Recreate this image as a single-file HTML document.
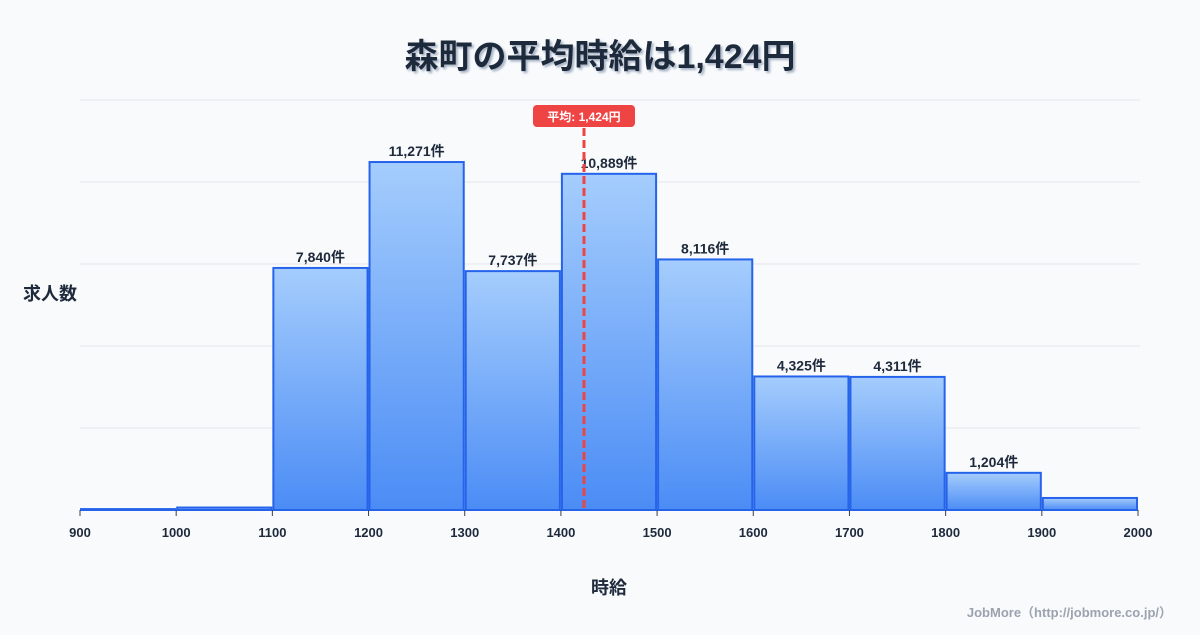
<!DOCTYPE html>
<html><head><meta charset="utf-8"><style>
body{margin:0;background:#f8fafc;width:1200px;height:630px;overflow:hidden;font-family:"Liberation Sans","Noto Sans CJK JP",sans-serif}
svg text{font-family:"Liberation Sans","Noto Sans CJK JP",sans-serif}
</style></head><body>
<svg id="chart" width="1200" height="630">
<defs>
<linearGradient id="g" x1="0" y1="0" x2="0" y2="1"><stop offset="0" stop-color="#a5cdfd"/><stop offset="1" stop-color="#4b8cf5"/></linearGradient>
<filter id="sh"><feDropShadow dx="2" dy="2" stdDeviation="1" flood-color="#94a3b8" flood-opacity="0.8"/></filter>
</defs>
<text x="600" y="68" text-anchor="middle" font-size="34" font-weight="bold" fill="#1e293b" filter="url(#sh)">森町の平均時給は1,424円</text>
<g id="grid"></g><g id="bars"></g><g id="axis"></g>
<text x="50" y="300" text-anchor="middle" font-size="18" font-weight="bold" fill="#1e293b">求人数</text>
<text x="609" y="594" text-anchor="middle" font-size="18" font-weight="bold" fill="#1e293b">時給</text>
<text x="1172" y="617" text-anchor="end" font-size="13" font-weight="bold" fill="#9ca3af">JobMore（http://jobmore.co.jp/）</text>
</svg>
<script>
const binStarts=[900,1000,1100,1200,1300,1400,1500,1600,1700,1800,1900];
const counts=[30,80,7840,11271,7737,10889,8116,4325,4311,1204,390];
const labels=["","","7,840件","11,271件","7,737件","10,889件","8,116件","4,325件","4,311件","1,204件",""];
const xTicks=[900,1000,1100,1200,1300,1400,1500,1600,1700,1800,1900,2000];
const avg=1424;
const NS="http://www.w3.org/2000/svg";
const x=v=>80+(v-900)*(1058/1100);
const y=v=>510-v*(410/13280);
function mk(t,a,p){const e=document.createElementNS(NS,t);for(const k in a)e.setAttribute(k,a[k]);(p||document.getElementById('chart')).appendChild(e);return e;}
const grid=document.getElementById('grid'),bars=document.getElementById('bars'),axis=document.getElementById('axis');
for(let i=0;i<=5;i++){const l=mk('line',{x1:80,x2:1140,y1:510-i*82,y2:510-i*82,stroke:'#e5e7eb','stroke-width':1},grid);

}
binStarts.forEach((b,i)=>{
const x0=x(b)+1,x1=x(b+100)-1,yt=y(counts[i]);
const r=mk('rect',{x:x0,y:yt,width:x1-x0,height:510-yt,fill:'url(#g)',stroke:'#2563eb','stroke-width':2},bars);


if(labels[i]){const t=mk('text',{x:(x0+x1)/2,y:yt-6,'text-anchor':'middle','font-size':14,'font-weight':'bold',fill:'#1e293b'},bars);t.textContent=labels[i];

}
});
xTicks.forEach(v=>{
const l=mk('line',{x1:x(v),x2:x(v),y1:510,y2:516,stroke:'#334155','stroke-width':1},axis);


const t=mk('text',{x:x(v),y:537,'text-anchor':'middle','font-size':13,'font-weight':'bold',fill:'#1e293b'},axis);t.textContent=v;


});
const ax=x(avg);
const al=mk('line',{x1:ax,x2:ax,y1:128,y2:510,stroke:'#ef4444','stroke-width':3,'stroke-dasharray':'8,4'});


const ar=mk('rect',{x:ax-51,y:105,width:102,height:22,rx:4,fill:'#ef4444'});


const at=mk('text',{x:ax,y:121,'text-anchor':'middle','font-size':12,'font-weight':'bold',fill:'#fff'});at.textContent='平均: 1,424円';


</script>
</body></html>
